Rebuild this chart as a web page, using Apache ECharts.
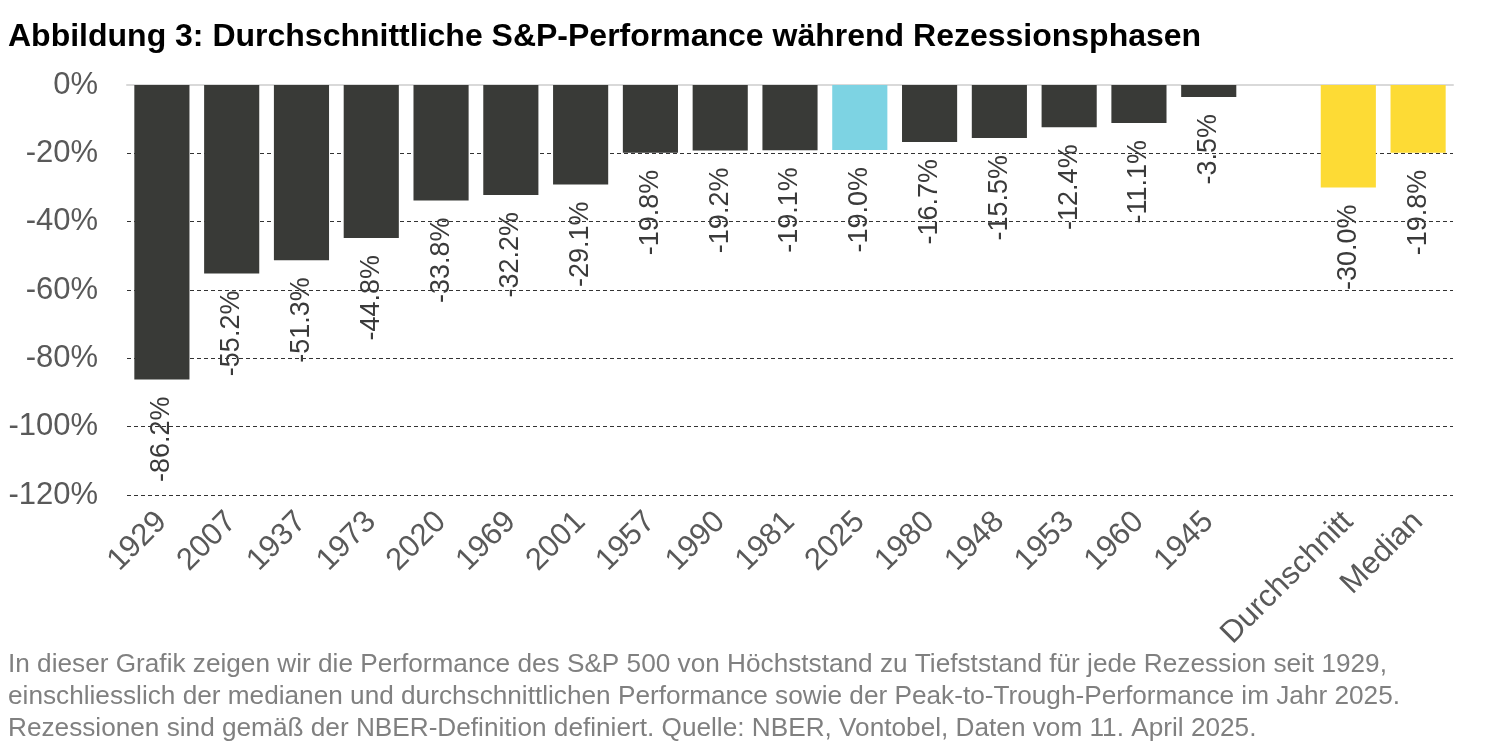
<!DOCTYPE html>
<html>
<head>
<meta charset="utf-8">
<script src="https://cdn.jsdelivr.net/npm/echarts@6/dist/echarts.min.js"></script>
<style>
  html, body { margin: 0; padding: 0; background: #fff; }
  #chart { width: 1500px; height: 750px; }
</style>
</head>
<body>
<div id="chart"></div>
<script>
var categories = ['1929', '2007', '1937', '1973', '2020', '1969', '2001', '1957', '1990', '1981',
                  '2025', '1980', '1948', '1953', '1960', '1945', '', 'Durchschnitt', 'Median'];
var values = [-86.2, -55.2, -51.3, -44.8, -33.8, -32.2, -29.1, -19.8, -19.2, -19.1,
              -19.0, -16.7, -15.5, -12.4, -11.1, -3.5, null, -30.0, -19.8];
// which bars get a highlight colour
var highlight = { '2025': '#7dd3e3', 'Durchschnitt': '#fddb35', 'Median': '#fddb35' };
var baseColor = '#393a37';

var footerLines = [
    'In dieser Grafik zeigen wir die Performance des S&P 500 von Höchststand zu Tiefststand für jede Rezession seit 1929,',
    'einschliesslich der medianen und durchschnittlichen Performance sowie der Peak-to-Trough-Performance im Jahr 2025.',
    'Rezessionen sind gemäß der NBER-Definition definiert. Quelle: NBER, Vontobel, Daten vom 11. April 2025.'
];

var chart = echarts.init(document.getElementById('chart'));

var barData = values.map(function (v, i) {
    return {
        value: v,
        itemStyle: { color: highlight[categories[i]] || baseColor }
    };
});

option = {
    animation: false,
    textStyle: { fontFamily: 'Liberation Sans, Arial, sans-serif' },
    title: {
        text: 'Abbildung 3: Durchschnittliche S&P-Performance während Rezessionsphasen',
        left: 3,
        top: 16,
        textStyle: { fontSize: 32, fontWeight: 'bold', color: '#000' }
    },
    grid: {
        left: 127,
        right: 47,
        top: 85,
        bottom: 255
    },
    xAxis: [
        {
            // top: the light 0% base line
            type: 'category',
            data: categories,
            position: 'top',
            axisLine: { show: true, lineStyle: { color: '#d9d9d9', width: 2 } },
            axisTick: { show: false },
            axisLabel: { show: false }
        },
        {
            // bottom: rotated year labels
            type: 'category',
            data: categories,
            position: 'bottom',
            axisLine: { show: false },
            axisTick: { show: false },
            axisLabel: {
                rotate: 45,
                fontSize: 31,
                color: '#595959',
                margin: 22,
                interval: 0
            }
        }
    ],
    yAxis: {
        type: 'value',
        min: -120,
        max: 0,
        interval: 20,
        axisLine: { show: false },
        axisTick: { show: false },
        axisLabel: {
            formatter: '{value}%',
            fontSize: 31,
            color: '#595959',
            margin: 29
        },
        splitLine: {
            show: true,
            lineStyle: { color: '#333', type: [4, 3], width: 1 }
        }
    },
    series: [
        {
            type: 'bar',
            data: barData,
            barCategoryGap: '21%',
            label: {
                show: true,
                position: 'bottom',
                distance: 17,
                rotate: 90,
                align: 'right',
                verticalAlign: 'middle',
                fontSize: 27,
                color: '#3a3a3a',
                formatter: function (p) { return p.value.toFixed(1) + '%'; }
            }
        }
    ],
    graphic: footerLines.map(function (line, i) {
        return {
            type: 'text',
            left: 8,
            top: 652 + i * 32,
            style: { text: line, fontSize: 26.2, fill: '#808080', fontFamily: 'Liberation Sans, Arial, sans-serif' }
        };
    })
};

chart.setOption(option);
</script>
</body>
</html>
